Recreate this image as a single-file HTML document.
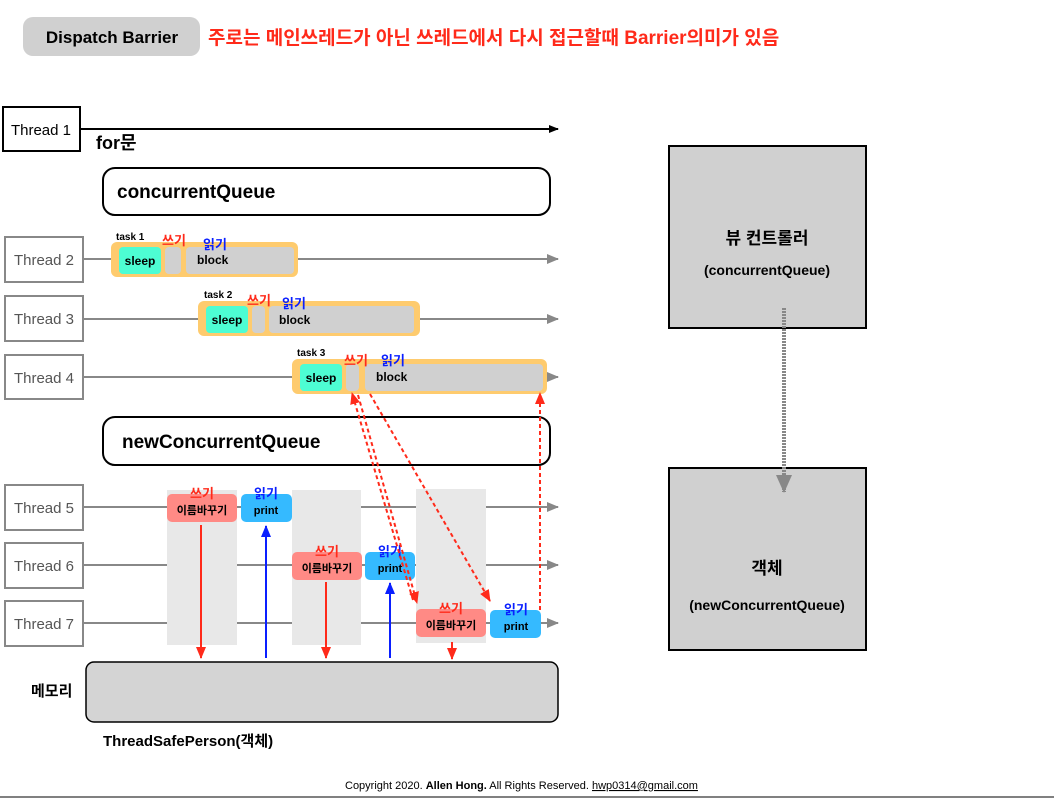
<!DOCTYPE html>
<html><head><meta charset="utf-8"><style>
body{margin:0;background:#fff;}
svg{display:block;font-family:"Liberation Sans","Noto Sans CJK KR",sans-serif;}
.b{font-weight:bold;}
</style></head><body>
<svg width="1054" height="798" viewBox="0 0 1054 798">
<defs>
<marker id="ak" markerWidth="10" markerHeight="8" refX="9" refY="4" orient="auto" markerUnits="userSpaceOnUse"><path d="M0,0L10,4L0,8z" fill="#000"/></marker>
<marker id="ag" markerWidth="12" markerHeight="10" refX="11" refY="5" orient="auto" markerUnits="userSpaceOnUse"><path d="M0,0L12,5L0,10z" fill="#888"/></marker>
<marker id="ar" markerWidth="12" markerHeight="10" refX="11" refY="5" orient="auto" markerUnits="userSpaceOnUse"><path d="M0,0L12,5L0,10z" fill="#ff2a1a"/></marker>
<marker id="ab" markerWidth="12" markerHeight="10" refX="11" refY="5" orient="auto" markerUnits="userSpaceOnUse"><path d="M0,0L12,5L0,10z" fill="#0a1fff"/></marker>
<marker id="agd" markerWidth="18" markerHeight="16" refX="17" refY="8" orient="auto" markerUnits="userSpaceOnUse"><path d="M0,0L18,8L0,16z" fill="#888"/></marker>
</defs>
<rect x="23" y="17" width="177" height="39" rx="10" fill="#d0d0d0"/>
<text x="112" y="43" font-size="17" class="b" text-anchor="middle">Dispatch Barrier</text>
<text x="208" y="44" font-size="19" class="b" fill="#ff2a1a">주로는 메인쓰레드가 아닌 쓰레드에서 다시 접근할때 Barrier의미가 있음</text>

<rect x="3" y="107" width="77" height="44" fill="#fff" stroke="#000" stroke-width="2"/>
<text x="41" y="135" font-size="15" text-anchor="middle">Thread 1</text>
<line x1="80" y1="129" x2="558" y2="129" stroke="#000" stroke-width="2" marker-end="url(#ak)"/>
<text x="96" y="149" font-size="18" class="b">for문</text>

<rect x="103" y="168" width="447" height="47" rx="12" fill="#fff" stroke="#000" stroke-width="2"/>
<text x="117" y="198" font-size="19" class="b">concurrentQueue</text>

<g stroke="#888" stroke-width="2" fill="#fff">
<rect x="5" y="237" width="78" height="45"/><rect x="5" y="296" width="78" height="45"/><rect x="5" y="355" width="78" height="44"/>
<rect x="5" y="485" width="78" height="45"/><rect x="5" y="543" width="78" height="45"/><rect x="5" y="601" width="78" height="45"/>
</g>
<g font-size="15" fill="#555" text-anchor="middle">
<text x="44" y="265">Thread 2</text><text x="44" y="324">Thread 3</text><text x="44" y="383">Thread 4</text>
<text x="44" y="513">Thread 5</text><text x="44" y="571">Thread 6</text><text x="44" y="629">Thread 7</text>
</g>
<g stroke="#888" stroke-width="2" marker-end="url(#ag)">
<line x1="83" y1="259" x2="558" y2="259"/><line x1="83" y1="319" x2="558" y2="319"/><line x1="83" y1="377" x2="558" y2="377"/>
<line x1="83" y1="507" x2="558" y2="507"/><line x1="83" y1="565" x2="558" y2="565"/><line x1="83" y1="623" x2="558" y2="623"/>
</g>

<g>
<rect x="111" y="242" width="187" height="35" rx="6" fill="#fecb6e"/>
<rect x="119" y="247" width="42" height="27" rx="4" fill="#4dfdd3"/>
<rect x="165" y="247" width="16" height="27" rx="4" fill="#d0d0d0"/>
<rect x="186" y="247" width="108" height="27" rx="4" fill="#d0d0d0"/>
<text x="140" y="265" font-size="12" class="b" text-anchor="middle">sleep</text>
<text x="197" y="264" font-size="12" class="b">block</text>
<text x="116" y="240" font-size="10" class="b">task 1</text>
<text x="162" y="245" font-size="13" class="b" fill="#ff2a1a">쓰기</text>
<text x="203" y="249" font-size="13" class="b" fill="#0a1fff">읽기</text>

<rect x="198" y="301" width="222" height="35" rx="6" fill="#fecb6e"/>
<rect x="206" y="306" width="42" height="27" rx="4" fill="#4dfdd3"/>
<rect x="252" y="306" width="13" height="27" rx="4" fill="#d0d0d0"/>
<rect x="269" y="306" width="145" height="27" rx="4" fill="#d0d0d0"/>
<text x="227" y="324" font-size="12" class="b" text-anchor="middle">sleep</text>
<text x="279" y="324" font-size="12" class="b">block</text>
<text x="204" y="298" font-size="10" class="b">task 2</text>
<text x="247" y="305" font-size="13" class="b" fill="#ff2a1a">쓰기</text>
<text x="282" y="308" font-size="13" class="b" fill="#0a1fff">읽기</text>

<rect x="292" y="359" width="255" height="35" rx="6" fill="#fecb6e"/>
<rect x="300" y="364" width="42" height="27" rx="4" fill="#4dfdd3"/>
<rect x="346" y="364" width="13" height="27" rx="4" fill="#d0d0d0"/>
<rect x="365" y="364" width="178" height="27" rx="4" fill="#d0d0d0"/>
<text x="321" y="382" font-size="12" class="b" text-anchor="middle">sleep</text>
<text x="376" y="381" font-size="12" class="b">block</text>
<text x="297" y="356" font-size="10" class="b">task 3</text>
<text x="344" y="365" font-size="13" class="b" fill="#ff2a1a">쓰기</text>
<text x="381" y="365" font-size="13" class="b" fill="#0a1fff">읽기</text>
</g>

<rect x="103" y="417" width="447" height="48" rx="12" fill="#fff" stroke="#000" stroke-width="2"/>
<text x="122" y="448" font-size="19" class="b">newConcurrentQueue</text>

<g fill="#e8e8e8">
<rect x="167" y="490" width="70" height="155"/><rect x="292" y="490" width="69" height="155"/><rect x="416" y="489" width="70" height="154"/>
</g>
<g fill="#ff8a85">
<rect x="167" y="494" width="70" height="28" rx="5"/><rect x="292" y="552" width="70" height="28" rx="5"/><rect x="416" y="609" width="70" height="28" rx="5"/>
</g>
<g fill="#35baff">
<rect x="241" y="494" width="51" height="28" rx="5"/><rect x="365" y="552" width="50" height="28" rx="5"/><rect x="490" y="610" width="51" height="28" rx="5"/>
</g>
<g font-size="11" class="b" text-anchor="middle">
<text x="202" y="514">이름바꾸기</text><text x="327" y="572">이름바꾸기</text><text x="451" y="629">이름바꾸기</text>
<text x="266" y="514">print</text><text x="390" y="572">print</text><text x="516" y="630">print</text>
</g>
<g font-size="13" class="b" fill="#ff2a1a" text-anchor="middle">
<text x="202" y="498">쓰기</text><text x="327" y="556">쓰기</text><text x="451" y="613">쓰기</text>
</g>
<g font-size="13" class="b" fill="#0a1fff" text-anchor="middle">
<text x="266" y="498">읽기</text><text x="390" y="556">읽기</text><text x="516" y="614">읽기</text>
</g>

<g stroke-width="2">
<line x1="201" y1="525" x2="201" y2="658" stroke="#ff2a1a" marker-end="url(#ar)"/>
<line x1="266" y1="658" x2="266" y2="526" stroke="#0a1fff" marker-end="url(#ab)"/>
<line x1="326" y1="582" x2="326" y2="658" stroke="#ff2a1a" marker-end="url(#ar)"/>
<line x1="390" y1="658" x2="390" y2="583" stroke="#0a1fff" marker-end="url(#ab)"/>
<line x1="452" y1="642" x2="452" y2="659" stroke="#ff2a1a" marker-end="url(#ar)"/>
</g>
<g stroke="#ff2a1a" stroke-width="2" stroke-dasharray="4,3" fill="none">
<line x1="413" y1="600" x2="352" y2="393" marker-end="url(#ar)"/>
<line x1="358" y1="395" x2="417" y2="603" marker-end="url(#ar)"/>
<line x1="370" y1="394" x2="490" y2="601" marker-end="url(#ar)"/>
<line x1="540" y1="610" x2="540" y2="393" marker-end="url(#ar)"/>
</g>

<rect x="86" y="662" width="472" height="60" rx="8" fill="#d4d4d4" stroke="#000" stroke-width="1.5"/>
<text x="31" y="696" font-size="15" class="b">메모리</text>
<text x="103" y="746" font-size="15" class="b">ThreadSafePerson(객체)</text>

<rect x="669" y="146" width="197" height="182" fill="#d0d0d0" stroke="#000" stroke-width="2"/>
<text x="767" y="244" font-size="17" class="b" text-anchor="middle">뷰 컨트롤러</text>
<text x="767" y="275" font-size="14" class="b" text-anchor="middle">(concurrentQueue)</text>
<rect x="669" y="468" width="197" height="182" fill="#d0d0d0" stroke="#000" stroke-width="2"/>
<text x="767" y="574" font-size="17" class="b" text-anchor="middle">객체</text>
<text x="767" y="610" font-size="14" class="b" text-anchor="middle">(newConcurrentQueue)</text>
<line x1="784" y1="308" x2="784" y2="492" stroke="#888" stroke-width="4" stroke-dasharray="2,1" marker-end="url(#agd)"/>

<text x="345" y="789" font-size="11">Copyright 2020. <tspan class="b">Allen Hong.</tspan> All Rights Reserved.  <tspan text-decoration="underline">hwp0314@gmail.com</tspan></text>
<line x1="0" y1="797" x2="1054" y2="797" stroke="#000" stroke-width="1"/>
</svg>
</body></html>
